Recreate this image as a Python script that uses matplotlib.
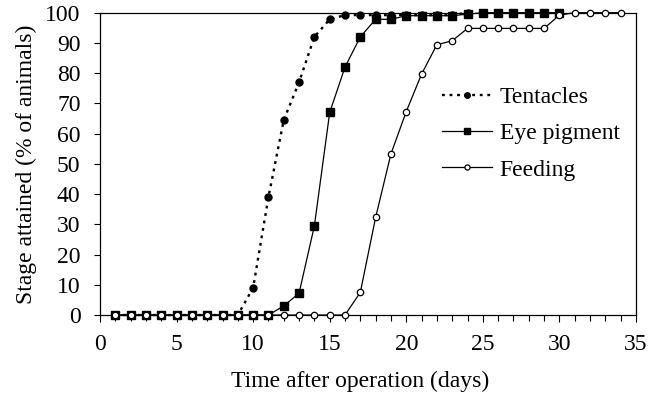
import matplotlib
matplotlib.use("Agg")
import matplotlib.pyplot as plt
from matplotlib.ticker import MultipleLocator

plt.rcParams['font.family'] = ['Liberation Serif', 'DejaVu Serif']

days_tentacles = list(range(1, 25))
tentacles = [0, 0, 0, 0, 0, 0, 0, 0, 0, 9, 39, 64.5, 77, 92, 97.8, 99.2, 99.2, 99.2,
             99.2, 99.2, 99.2, 99.2, 99.2, 100]

days_eye = list(range(1, 31))
eye_pigment = [0, 0, 0, 0, 0, 0, 0, 0, 0, 0, 0, 3, 7.2, 29.5, 67, 82, 92, 97.8,
               97.8, 99, 99, 99, 99, 99.5, 100, 100, 100, 100, 100, 100]

days_feeding = list(range(1, 35))
feeding = [0, 0, 0, 0, 0, 0, 0, 0, 0, 0, 0, 0, 0, 0, 0, 0, 7.5, 32.3, 53.3, 67.3,
           79.7, 89.4, 90.7, 94.8, 94.8, 94.8, 94.8, 94.8, 94.8, 99.2, 100, 100, 100, 100]

fig = plt.figure(figsize=(6.6, 3.96), dpi=100)
ax = fig.add_axes([0.1515, 0.2045, 0.8121, 0.7635])

ax.plot(days_tentacles, tentacles, linestyle=(0, (1.2, 2.0)), color='black', lw=1.7,
        marker='o', markersize=5, markerfacecolor='black', markeredgecolor='black',
        label='Tentacles', clip_on=False, zorder=3)
ax.plot(days_eye, eye_pigment, linestyle='-', color='black', lw=0.9,
        marker='s', markersize=5.5, markerfacecolor='black', markeredgecolor='black',
        label='Eye pigment', clip_on=False, zorder=4)
ax.plot(days_feeding, feeding, linestyle='-', color='black', lw=0.9,
        marker='o', markersize=4.6, markerfacecolor='white', markeredgecolor='black',
        markeredgewidth=0.9, label='Feeding', clip_on=False, zorder=5)

ax.set_xlim(0, 35)
ax.set_ylim(0, 100)
ax.xaxis.set_major_locator(MultipleLocator(5))
ax.xaxis.set_minor_locator(MultipleLocator(1))
ax.yaxis.set_major_locator(MultipleLocator(10))
ax.tick_params(axis='x', which='major', direction='out', length=5, width=0.8,
               labelsize=17, pad=9, colors='black')
ax.tick_params(axis='x', which='minor', direction='out', length=4, width=0.8)
ax.tick_params(axis='y', which='major', direction='out', length=4, width=0.8,
               labelsize=17, pad=10)
for s in ax.spines.values():
    s.set_linewidth(0.9)

ax.set_xlabel('Time after operation (days)', fontsize=17, labelpad=11, x=0.485)
ax.set_ylabel('Stage attained (% of animals)', fontsize=17, labelpad=6)

leg = ax.legend(loc='upper left', bbox_to_anchor=(0.638, 0.755), frameon=False,
                fontsize=17, handlelength=2.1, handletextpad=0.35, labelspacing=0.62,
                borderaxespad=0, borderpad=0, markerscale=0.8)

fig.savefig('out.png', dpi=100)
